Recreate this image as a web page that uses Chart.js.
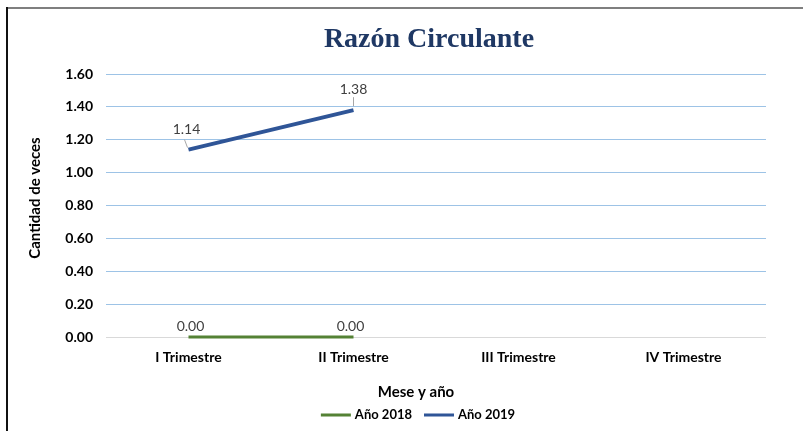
<!DOCTYPE html>
<html>
<head>
<meta charset="utf-8">
<script src="https://cdn.jsdelivr.net/npm/chart.js@4"></script>
<style>
html,body{margin:0;padding:0;background:#fff;}
#wrap{position:relative;width:803px;height:431px;}
#c{position:absolute;left:0;top:0;}
</style>
</head>
<body>
<div id="wrap"><canvas id="c" width="803" height="431"></canvas></div>
<script>
const categories = ['I Trimestre', 'II Trimestre', 'III Trimestre', 'IV Trimestre'];
const seriesNames = ['Año 2018', 'Año 2019'];
const seriesColors = ['#548235', '#2F5597'];
const values2018 = [0.00, 0.00, null, null];
const values2019 = [1.14, 1.38, null, null];
const yTicks = [0, 0.2, 0.4, 0.6, 0.8, 1.0, 1.2, 1.4, 1.6];
const chartTitle = 'Razón Circulante';
const xTitle = 'Mese y año';
const yTitle = 'Cantidad de veces';

const FONT = 'Lato, "Open Sans", sans-serif';

const decorPlugin = {
  id: 'decor',
  afterDraw(chart) {
    const ctx = chart.ctx;
    ctx.save();
    // frame
    ctx.fillStyle = '#7f7f7f';
    ctx.fillRect(7, 7, 796, 2);
    ctx.fillStyle = '#111';
    ctx.fillRect(6, 7, 2, 424);
    // title
    ctx.fillStyle = '#1F3864';
    ctx.font = 'bold 28px "Liberation Serif", "Times New Roman", serif';
    ctx.textAlign = 'center';
    ctx.textBaseline = 'middle';
    ctx.fillText(chartTitle, 429, 40);
    // x axis title
    ctx.fillStyle = '#000';
    ctx.font = 'bold 15px ' + FONT;
    ctx.fillText(xTitle, 416, 392);
    // y axis title
    ctx.save();
    ctx.translate(35, 198);
    ctx.rotate(-Math.PI / 2);
    ctx.fillText(yTitle, 0, 0);
    ctx.restore();
    // legend
    ctx.font = 'bold 13px ' + FONT;
    ctx.textAlign = 'left';
    const items = chart.data.datasets.map((d, i) => ({ text: d.label, color: seriesColors[i] }));
    const lineW = 30, gap = 4, itemGap = 12;
    let total = 0;
    items.forEach((it, i) => { total += lineW + gap + ctx.measureText(it.text).width + (i < items.length - 1 ? itemGap : 0); });
    let x = 418 - total / 2;
    const y = 415;
    items.forEach(it => {
      ctx.fillStyle = it.color;
      ctx.fillRect(x, y - 1.5, lineW, 3);
      x += lineW + gap;
      ctx.fillStyle = '#000';
      ctx.fillText(it.text, x, y);
      x += ctx.measureText(it.text).width + itemGap;
    });
    ctx.restore();
  }
};

const labelPlugin = {
  id: 'dataLabels',
  afterDatasetsDraw(chart) {
    const ctx = chart.ctx;
    ctx.save();
    ctx.font = '14px ' + FONT;
    ctx.fillStyle = '#404040';
    ctx.textAlign = 'center';
    ctx.textBaseline = 'middle';
    chart.data.datasets.forEach((ds, di) => {
      const meta = chart.getDatasetMeta(di);
      meta.data.forEach((pt, i) => {
        const v = ds.data[i];
        if (v === null || v === undefined) return;
        let dx = 0, dy = -12;
        let leader = false;
        if (di === 1) {
          if (i === 0) { dx = -2; dy = -20; } else { dx = 0; dy = -21; }
          leader = true;
        } else {
          dx = i === 0 ? 2 : -3; dy = -11;
        }
        if (leader) {
          ctx.strokeStyle = '#a6a6a6';
          ctx.lineWidth = 1;
          ctx.beginPath();
          if (i === 0) { ctx.moveTo(pt.x - 4, pt.y - 10); ctx.lineTo(pt.x - 1, pt.y - 2); }
          else { ctx.moveTo(pt.x, pt.y - 13); ctx.lineTo(pt.x, pt.y - 4); }
          ctx.stroke();
        }
        ctx.fillText(v.toFixed(2), pt.x + dx, pt.y + dy);
      });
    });
    ctx.restore();
  }
};

new Chart(document.getElementById('c'), {
  type: 'line',
  data: {
    labels: categories,
    datasets: [
      { label: seriesNames[0], data: values2018, borderColor: seriesColors[0], backgroundColor: seriesColors[0], borderWidth: 3, pointRadius: 0, tension: 0, clip: false },
      { label: seriesNames[1], data: values2019, borderColor: seriesColors[1], backgroundColor: seriesColors[1], borderWidth: 4, pointRadius: 0, tension: 0, clip: false }
    ]
  },
  options: {
    responsive: false,
    animation: false,
    devicePixelRatio: 1,
    layout: { padding: { left: 14, right: 37, top: 74, bottom: 64 } },
    plugins: {
      title: { display: false },
      legend: { display: false },
      tooltip: { enabled: false }
    },
    scales: {
      x: {
        offset: true,
        afterFit(s) { s.height = 30; },
        grid: { display: false, drawTicks: false },
        border: { display: false },
        ticks: { color: '#000', font: { family: FONT, size: 14, weight: 'bold' }, padding: 12 }
      },
      y: {
        min: 0, max: 1.6,
        afterFit(s) { s.width = 92; },
        afterBuildTicks(s) { s.ticks = yTicks.map(v => ({ value: v })); },
        grid: {
          drawTicks: false,
          color: ctx => (ctx.tick && ctx.tick.value === 0) ? '#D9D9D9' : '#9DC3E6',
          lineWidth: 1
        },
        border: { display: false },
        ticks: {
          color: '#000', padding: 13,
          font: { family: FONT, size: 14, weight: 'bold' },
          callback: v => Number(v).toFixed(2)
        },
        title: { display: false }
      }
    }
  },
  plugins: [decorPlugin, labelPlugin]
});
</script>
</body>
</html>
